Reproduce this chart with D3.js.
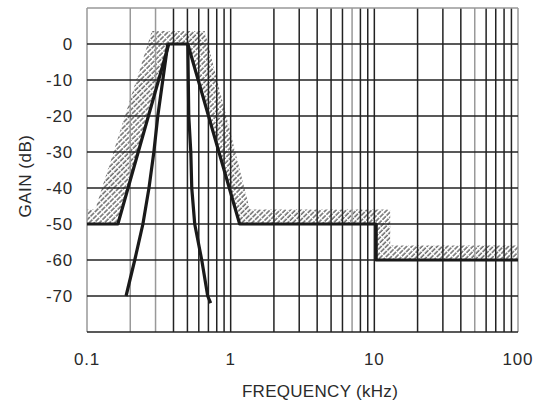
<!DOCTYPE html>
<html>
<head>
<meta charset="utf-8">
<script src="https://cdn.jsdelivr.net/npm/d3@7"></script>
<style>
body { margin: 0; background: #fff; }
text { font-family: "Liberation Sans", Arial, sans-serif; fill: #2a2a2a; }
</style>
</head>
<body>
<div id="chart"></div>
<script>
// frequency in kHz, gain in dB
var maskFreq = [0.1, 0.164, 0.371, 0.503, 1.155, 10.3, 10.3, 100];
var maskGain = [-50, -50, 0, 0, -50, -50, -60, -60];

var limitFreq = [0.1, 0.114, 0.283, 0.66, 1.36, 12.9, 12.9, 100];
var limitGain = [-46, -46, 3.6, 3.6, -46, -46, -56, -56];

var filterLeftFreq = [0.187, 0.215, 0.245, 0.270, 0.292, 0.311, 0.337, 0.365];
var filterLeftGain = [-70, -60, -50, -40, -30, -20, -10, 0];

var filterRightFreq = [0.503, 0.511, 0.528, 0.536, 0.562, 0.629, 0.692, 0.726];
var filterRightGain = [0, -20, -30, -40, -50, -60, -70, -72];

var xTicks = [0.1, 1, 10, 100];
var xTickLabels = ["0.1", "1", "10", "100"];
var yTicks = [0, -10, -20, -30, -40, -50, -60, -70];
var grayLines = [0.2, 0.3, 7, 50];

function zipPoints(freqs, gains) {
	var pts = [];
	var i = 0;
	for (i; i < freqs.length; i++) {
		pts.push({ f: freqs[i], g: gains[i] });
	}
	return pts;
}

function createChart(div) {
	var svg = d3.select("#" + div).append("svg").attr("width", 536).attr("height", 410);

	var x = d3.scaleLog().domain([0.1, 100]).range([87, 518]);
	var y = d3.scaleLinear().domain([10, -80]).range([8, 332]);

	var defs = svg.append("defs");
	var pat = defs.append("pattern").attr("id", "hatch").attr("patternUnits", "userSpaceOnUse")
			.attr("width", 3.6).attr("height", 6).attr("patternTransform", "rotate(45)");
	pat.append("line").attr("x1", 1).attr("y1", 0).attr("x2", 1).attr("y2", 6)
			.attr("stroke", "#333").attr("stroke-width", 1.1).attr("stroke-dasharray", "5,1");

	var line = d3.line().x(function(d) { return x(d.f); }).y(function(d) { return y(d.g); });

	// hatched band between the limit and the mask line
	var band = zipPoints(limitFreq, limitGain).concat(zipPoints(maskFreq, maskGain).reverse());
	svg.append("path").attr("d", line(band) + "Z").attr("fill", "url(#hatch)").attr("stroke", "none");

	// vertical grid
	var minor = [];
	var dec, k;
	for (dec = 0.1; dec < 100; dec *= 10) {
		for (k = 1; k <= 9; k++) {
			minor.push(+(dec * k).toPrecision(3));
		}
	}
	minor.push(100);
	svg.append("g").selectAll("line").data(minor).join("line")
			.attr("x1", function(d) { return x(d); }).attr("x2", function(d) { return x(d); })
			.attr("y1", y(10)).attr("y2", y(-80))
			.attr("stroke", function(d) {
				if (d == 0.1 || d == 100) return "#999";
				return grayLines.indexOf(d) >= 0 ? "#999" : "#222";
			})
			.attr("stroke-width", 1.5);

	// horizontal grid
	svg.append("g").selectAll("line").data(yTicks).join("line")
			.attr("x1", x(0.1)).attr("x2", x(100))
			.attr("y1", function(d) { return y(d); }).attr("y2", function(d) { return y(d); })
			.attr("stroke", "#222").attr("stroke-width", 1.5);
	svg.append("line").attr("x1", x(0.1)).attr("x2", x(100)).attr("y1", y(10)).attr("y2", y(10))
			.attr("stroke", "#999").attr("stroke-width", 1.5);
	svg.append("line").attr("x1", x(0.1)).attr("x2", x(100)).attr("y1", y(-80)).attr("y2", y(-80))
			.attr("stroke", "#222").attr("stroke-width", 1.5);

	// curves
	var curves = [zipPoints(maskFreq, maskGain), zipPoints(filterLeftFreq, filterLeftGain),
			zipPoints(filterRightFreq, filterRightGain)];
	svg.append("g").selectAll("path").data(curves).join("path")
			.attr("d", line).attr("fill", "none").attr("stroke", "#1a1a1a")
			.attr("stroke-width", 3.2).attr("stroke-linejoin", "round");

	// tick labels
	svg.append("g").selectAll("text").data(yTicks).join("text")
			.attr("x", 73).attr("y", function(d) { return y(d) + 6; })
			.attr("text-anchor", "end").attr("font-size", 17).attr("letter-spacing", 0.8)
			.text(function(d) { return d; });
	svg.append("g").selectAll("text").data(xTicks).join("text")
			.attr("x", function(d) { return x(d); }).attr("y", 365)
			.attr("text-anchor", "middle").attr("font-size", 17).attr("letter-spacing", 0.8)
			.text(function(d, i) { return xTickLabels[i]; });

	svg.append("text").attr("x", 320).attr("y", 397).attr("text-anchor", "middle")
			.attr("font-size", 17).attr("letter-spacing", 0.3).text("FREQUENCY (kHz)");
	svg.append("text").attr("transform", "translate(31,176) rotate(-90)")
			.attr("text-anchor", "middle").attr("font-size", 17).attr("letter-spacing", 0.5)
			.text("GAIN (dB)");
}

createChart("chart");
</script>
</body>
</html>
